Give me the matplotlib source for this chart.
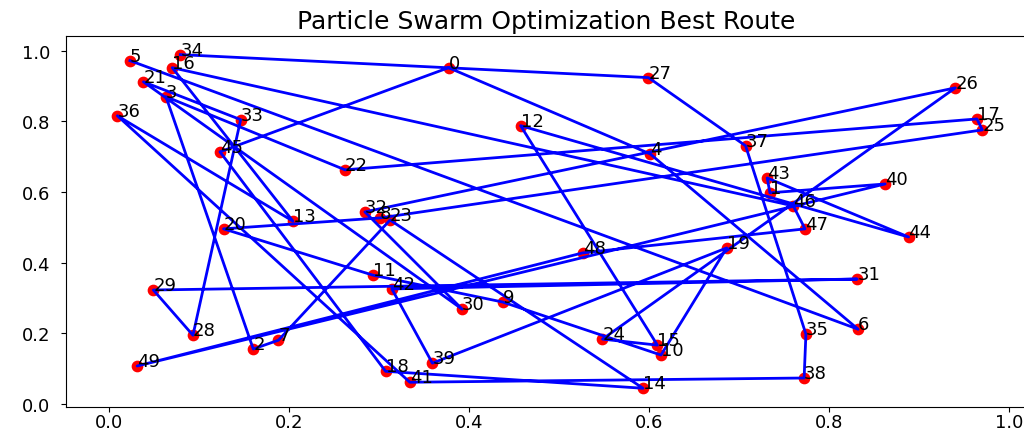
import matplotlib
matplotlib.use("Agg")
import matplotlib.pyplot as plt
import numpy as np

# city coordinates (index = label)
xs = [0.377, 0.734, 0.160, 0.063, 0.601, 0.023, 0.832, 0.188, 0.301, 0.437,
      0.613, 0.293, 0.457, 0.204, 0.593, 0.609, 0.070, 0.964, 0.307, 0.686,
      0.127, 0.038, 0.262, 0.312, 0.548, 0.970, 0.940, 0.599, 0.093, 0.049,
      0.392, 0.831, 0.284, 0.146, 0.079, 0.774, 0.009, 0.707, 0.772, 0.359,
      0.862, 0.334, 0.314, 0.731, 0.888, 0.123, 0.760, 0.773, 0.526, 0.031]
ys = [0.952, 0.598, 0.156, 0.870, 0.708, 0.972, 0.212, 0.181, 0.527, 0.289,
      0.139, 0.365, 0.788, 0.518, 0.045, 0.167, 0.952, 0.807, 0.093, 0.442,
      0.496, 0.912, 0.663, 0.521, 0.184, 0.776, 0.895, 0.924, 0.195, 0.323,
      0.269, 0.354, 0.544, 0.805, 0.989, 0.198, 0.816, 0.731, 0.074, 0.116,
      0.623, 0.062, 0.326, 0.640, 0.473, 0.714, 0.561, 0.496, 0.428, 0.108]

# best route (order of visits)
route = [5, 6, 4, 0, 45, 18, 14, 23, 7, 2, 3, 22, 17, 25, 8, 20, 11, 9, 10, 19,
         39, 42, 31, 29, 28, 33, 21, 30, 32, 26, 24, 15, 12, 44, 43, 1, 40, 49,
         48, 47, 46, 16, 13, 36, 41, 38, 35, 37, 27, 34]

x = np.array(xs)
y = np.array(ys)

fig = plt.figure(figsize=(10.24, 4.31), dpi=100)
ax = fig.add_axes([0.0645, 0.0534, 0.937, 0.861])

ax.scatter(x, y, c='red', s=55, zorder=2)
ax.plot(x[route], y[route], 'b-', linewidth=2, zorder=3)
for i in range(len(xs)):
    ax.text(xs[i], ys[i], str(i), fontsize=13, zorder=4)

ax.set_xlim(-0.048, 1.018)
ax.set_ylim(-0.008, 1.042)
ax.set_xticks([0.0, 0.2, 0.4, 0.6, 0.8, 1.0])
ax.set_yticks([0.0, 0.2, 0.4, 0.6, 0.8, 1.0])
ax.tick_params(labelsize=13)
ax.tick_params(axis='x', pad=1)
ax.tick_params(axis='y', pad=8)
ax.set_title('Particle Swarm Optimization Best Route', fontsize=18)

fig.savefig('out.png', dpi=100)
